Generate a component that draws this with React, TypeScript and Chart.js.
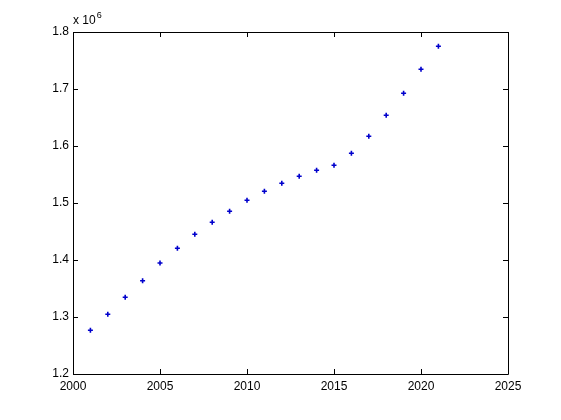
import React, { useEffect, useRef } from "react";
import { Chart, registerables } from "chart.js";

Chart.register(...registerables);

const years = [2001, 2002, 2003, 2004, 2005, 2006, 2007, 2008, 2009, 2010, 2011, 2012, 2013, 2014, 2015, 2016, 2017, 2018, 2019, 2020, 2021];
const values = [1.2767, 1.3047, 1.3346, 1.3637, 1.3947, 1.4205, 1.4451, 1.4661, 1.4854, 1.5047, 1.5205, 1.5346, 1.5468, 1.5574, 1.5661, 1.5872, 1.617, 1.6539, 1.6925, 1.7346, 1.7749];
const xTicks = [2000, 2005, 2010, 2015, 2020, 2025];
const yTicks = [1.2, 1.3, 1.4, 1.5, 1.6, 1.7, 1.8];
const exponentLabel = "x 10";
const exponentSup = "6";

const FONT = "'Liberation Sans', Arial, sans-serif";

const boxPlugin = {
  id: "matlabBox",
  afterDraw(chart: any) {
    const { ctx, chartArea } = chart;
    const { left, right, top, bottom } = chartArea;
    const xs = chart.scales.x;
    const ys = chart.scales.y;
    ctx.save();
    ctx.strokeStyle = "#000";
    ctx.lineWidth = 1;
    ctx.beginPath();
    ctx.rect(Math.round(left) + 0.5, Math.round(top) + 0.5, Math.round(right - left), Math.round(bottom - top));
    ctx.stroke();
    const tl = 5;
    ctx.beginPath();
    xTicks.forEach((v) => {
      const px = Math.round(xs.getPixelForValue(v)) + 0.5;
      ctx.moveTo(px, bottom);
      ctx.lineTo(px, bottom - tl);
      ctx.moveTo(px, top);
      ctx.lineTo(px, top + tl);
    });
    yTicks.forEach((v) => {
      const py = Math.round(ys.getPixelForValue(v)) + 0.5;
      ctx.moveTo(left, py);
      ctx.lineTo(left + tl, py);
      ctx.moveTo(right, py);
      ctx.lineTo(right - tl, py);
    });
    ctx.stroke();
    ctx.fillStyle = "#000";
    ctx.font = `12px ${FONT}`;
    ctx.textBaseline = "alphabetic";
    ctx.textAlign = "left";
    const x0 = left;
    const y0 = top - 8;
    ctx.fillText(exponentLabel, x0, y0);
    const w = ctx.measureText(exponentLabel).width;
    ctx.font = `9px ${FONT}`;
    ctx.fillText(exponentSup, x0 + w + 1, y0 - 6);
    ctx.restore();
  },
};

export default function App() {
  const ref = useRef<HTMLCanvasElement>(null);
  useEffect(() => {
    document.body.style.margin = "0";
    const chart = new Chart(ref.current!, {
      type: "scatter",
      data: {
        datasets: [
          {
            data: years.map((y, i) => ({ x: y, y: values[i] })),
            pointStyle: "cross",
            pointRadius: 2.5,
            borderWidth: 1.6,
            borderColor: "#0000cc",
            backgroundColor: "#0000cc",
            showLine: false,
          },
        ],
      },
      options: {
        responsive: false,
        animation: false,
        layout: { padding: { top: 32, right: 53, left: 0, bottom: 0 } },
        plugins: { legend: { display: false }, tooltip: { enabled: false } },
        scales: {
          x: {
            type: "linear",
            min: 2000,
            max: 2025,
            grid: { display: false, drawTicks: false },
            border: { display: false },
            afterBuildTicks: (s: any) => {
              s.ticks = xTicks.map((v) => ({ value: v }));
            },
            afterFit: (s: any) => {
              s.height = 46;
            },
            ticks: {
              padding: 5,
              color: "#000",
              font: { family: FONT, size: 12 },
              callback: (v: any) => String(v),
              maxRotation: 0,
            },
          },
          y: {
            type: "linear",
            min: 1.2,
            max: 1.8,
            grid: { display: false, drawTicks: false },
            border: { display: false },
            afterBuildTicks: (s: any) => {
              s.ticks = yTicks.map((v) => ({ value: v }));
            },
            afterFit: (s: any) => {
              s.width = 73;
            },
            ticks: {
              padding: 4,
              color: "#000",
              font: { family: FONT, size: 12 },
              callback: (v: any) => Number(v).toFixed(1),
            },
          },
        },
      },
      plugins: [boxPlugin],
    });
    return () => chart.destroy();
  }, []);
  return (
    <div style={{ width: 561, height: 420, background: "#fff" }}>
      <canvas ref={ref} width={561} height={420} style={{ display: "block" }} />
    </div>
  );
}
